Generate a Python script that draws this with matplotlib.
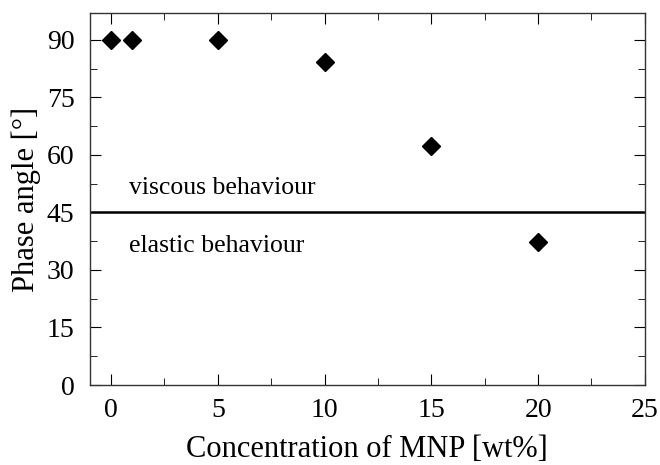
import matplotlib.pyplot as plt

plt.rcParams["font.family"] = ["Liberation Serif", "DejaVu Serif"]

conc = [0, 1, 5, 10, 15, 20]
phase = [90, 90, 90, 84.3, 62.2, 37.2]

fig = plt.figure(figsize=(6.6, 4.65), dpi=100)
ax = fig.add_axes([0.136, 0.172, 0.841, 0.8])

ax.plot(conc, phase, linestyle='none', marker='D', color='k', markersize=8.7)
ax.axhline(45, color='k', linewidth=1.8)

ax.text(0.85, 51.5, "viscous behaviour", fontsize=18.5, va='center')
ax.text(0.85, 36.2, "elastic behaviour", fontsize=18.5, va='center')

ax.set_xlim(-1, 25)
ax.set_ylim(0, 97)
ax.set_xticks([0, 5, 10, 15, 20, 25])
ax.set_xticks([2.5, 7.5, 12.5, 17.5, 22.5], minor=True)
ax.set_yticks([0, 15, 30, 45, 60, 75, 90])
ax.set_yticks([7.5, 22.5, 37.5, 52.5, 67.5, 82.5], minor=True)
ax.tick_params(which='both', direction='in', top=True, right=True, labelsize=20)
ax.tick_params(axis='y', pad=11)
ax.tick_params(axis='x', pad=9)
ax.tick_params(which='major', length=8)
ax.tick_params(which='minor', length=5)
for s in ax.spines.values():
    s.set_linewidth(1.0)
    s.set_color('#333333')

ax.set_xlabel("Concentration of MNP [wt%]", fontsize=22, labelpad=9)
ax.set_ylabel("Phase angle [°]", fontsize=22, labelpad=4)

fig.savefig("out.png")
